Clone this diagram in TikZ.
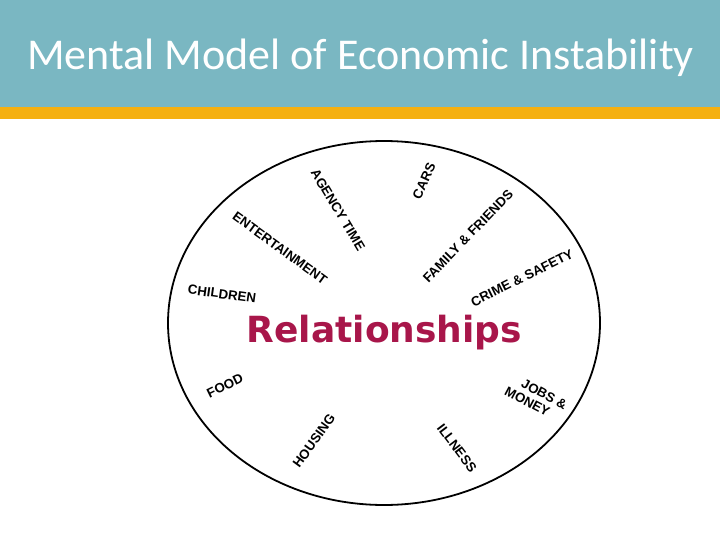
\documentclass[tikz,border=0pt]{standalone}
\usepackage{fontspec}
\setmainfont{Carlito}
\newfontfamily\labfont{Liberation Sans}
\newfontfamily\relfont{DejaVu Sans}
\definecolor{bandteal}{RGB}{122,183,194}
\definecolor{bandorange}{RGB}{245,176,16}
\definecolor{relred}{RGB}{168,22,74}
\begin{document}
\begin{tikzpicture}[x=1pt,y=-1pt,
  lbl/.style={font=\labfont\bfseries\fontsize{13.3}{14.5}\selectfont, inner sep=0pt, align=left}]
\useasboundingbox (0,0) rectangle (720,540);
\fill[white] (0,0) rectangle (720,540);
\fill[bandteal] (0,0) rectangle (720,107);
\fill[bandorange] (0,107) rectangle (720,119);
\node[anchor=base west, text=white, inner sep=0pt, font=\fontsize{44}{48}\selectfont] (title) at (27,70) {Mental Model of Economic Instability};
\draw[line width=1.8pt] (384,323) ellipse [x radius=216pt, y radius=182pt];
\node[anchor=base, inner sep=0pt, text=relred, font=\relfont\bfseries\fontsize{36}{40}\selectfont] (rel) at (384.5,342) {Relationships};
\node[lbl, rotate=-59] (agency) at (338,210) {AGENCY TIME};
\node[lbl, rotate=65.6] (cars) at (424,181) {CARS};
\node[lbl, rotate=-36] (ent) at (280,248) {ENTERTAINMENT};
\node[lbl, rotate=46] (fam) at (468,236) {FAMILY \& FRIENDS};
\node[lbl, rotate=-8] (child) at (222,294) {CHILDREN};
\node[lbl, rotate=26.5] (crime) at (522,278) {CRIME \& SAFETY};
\node[lbl, rotate=26] (food) at (225,386) {FOOD};
\node[lbl, rotate=54] (housing) at (314,441) {HOUSING};
\node[lbl, rotate=-28] (jobs) at (536,398) {\hspace*{11pt}JOBS \&\\MONEY};
\node[lbl, rotate=-53] (ill) at (457,448) {ILLNESS};
\end{tikzpicture}
\end{document}
